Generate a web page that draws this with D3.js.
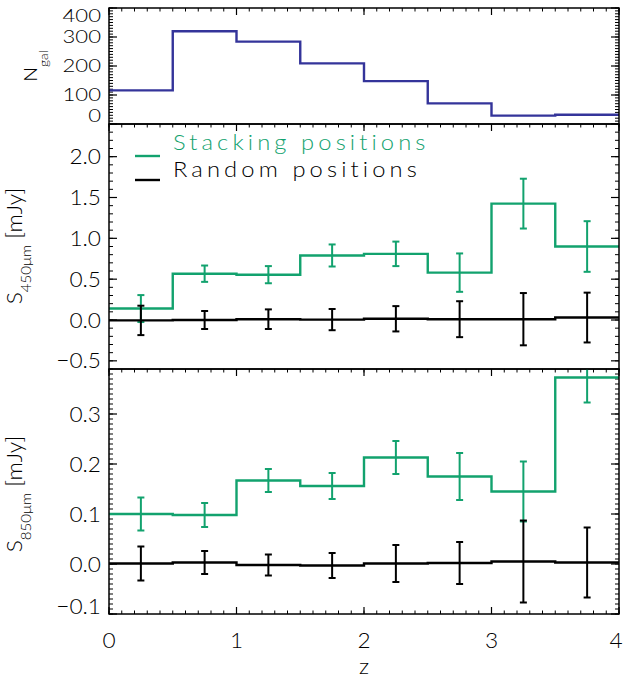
<!DOCTYPE html>
<html>
<head>
<meta charset="utf-8">
<script src="https://cdn.jsdelivr.net/npm/d3@7"></script>
<style>
	body { margin: 0; background: #fff; }
	text { font-family: Lato, "Open Sans", sans-serif; font-weight: 300; }
</style>
</head>
<body>
<div id="chart"></div>
<script>
// redshift bins (lower edges), width 0.5
var binLo = [0, 0.5, 1, 1.5, 2, 2.5, 3, 3.5];
var binWidth = 0.5;

var nGal = [116, 320, 284, 209, 148, 71, 29, 32];

var s450Stack = [0.14, 0.567, 0.555, 0.79, 0.81, 0.58, 1.425, 0.90];
var s450StackErr = [0.165, 0.10, 0.105, 0.135, 0.15, 0.235, 0.305, 0.31];
var s450Rand = [-0.005, 0.0, 0.01, 0.005, 0.015, 0.01, 0.01, 0.03];
var s450RandErr = [0.18, 0.11, 0.12, 0.13, 0.155, 0.22, 0.32, 0.305];

var s850Stack = [0.100, 0.098, 0.167, 0.156, 0.213, 0.175, 0.145, 0.373];
var s850StackErr = [0.033, 0.024, 0.023, 0.026, 0.033, 0.047, 0.06, 0.05];
var s850Rand = [0.001, 0.003, -0.002, -0.003, 0.001, 0.002, 0.005, 0.003];
var s850RandErr = [0.034, 0.023, 0.021, 0.025, 0.037, 0.042, 0.082, 0.07];

var xTicks = [0, 1, 2, 3, 4];
var nGalTicks = [0, 100, 200, 300, 400];
var s450Ticks = [-0.5, 0.0, 0.5, 1.0, 1.5, 2.0];
var s850Ticks = [-0.1, 0.0, 0.1, 0.2, 0.3];

var legendLabels = ["Stacking positions", "Random positions"];

var green = "#12a26e";
var navy = "#34349a";
var W = 623, H = 678;
var left = 109, right = 619;
var fs = 21, stretch = 1.08;

var svg = d3.select("#chart").append("svg").attr("width", W).attr("height", H);

var x = d3.scaleLinear().domain([0, 4]).range([left, right]);

// wide thin text, like the IDL font
function wideText(g, tx, ty, str, anchor, rot, size, sx) {
	var t = g.append("text")
		.attr("transform", "translate(" + tx + "," + ty + ")" + (rot ? " rotate(" + rot + ")" : "") + " scale(" + (sx || stretch) + ",1)")
		.attr("text-anchor", anchor || "start")
		.attr("font-size", size || fs)
		.attr("fill", "#000");
	if (str !== null) t.text(str);
	return t;
}

function stepPoints(vals) {
	var pts = binLo.map(function(b, i) { return [b, vals[i]]; });
	pts.push([4, vals[vals.length - 1]]);
	return pts;
}

function panel(top, bottom, domain, ticks, minorStep, fmt, id, lblSize, lblStretch) {
	var y = d3.scaleLinear().domain(domain).range([bottom, top]);
	var g = svg.append("g");
	g.append("clipPath").attr("id", id).append("rect")
		.attr("x", left).attr("y", top).attr("width", right - left).attr("height", bottom - top);
	var p = { y: y, g: g, top: top, bottom: bottom, clip: "url(#" + id + ")" };

	// y ticks left + right
	var minor = d3.range(Math.ceil(domain[0] / minorStep), Math.floor(domain[1] / minorStep) + 1).map(function(k) { return k * minorStep; });
	g.selectAll("line.ymin").data(minor).enter().append("line")
		.attr("x1", left).attr("x2", left + 4).attr("y1", y).attr("y2", y)
		.attr("stroke", "#000").attr("stroke-width", 1);
	g.selectAll("line.ymin2").data(minor).enter().append("line")
		.attr("x1", right).attr("x2", right - 4).attr("y1", y).attr("y2", y)
		.attr("stroke", "#000").attr("stroke-width", 1);
	g.selectAll("line.ymaj").data(ticks).enter().append("line")
		.attr("x1", left).attr("x2", left + 8).attr("y1", y).attr("y2", y)
		.attr("stroke", "#000").attr("stroke-width", 1.2);
	g.selectAll("line.ymaj2").data(ticks).enter().append("line")
		.attr("x1", right).attr("x2", right - 8).attr("y1", y).attr("y2", y)
		.attr("stroke", "#000").attr("stroke-width", 1.2);

	var sz = lblSize || fs;
	ticks.forEach(function(v) {
		var ty = y(v);
		// labels at the panel edges get nudged inside
		if (Math.abs(ty - top) < 3) ty = top + 8;
		if (Math.abs(ty - bottom) < 3) ty = bottom - 8;
		wideText(g, 101, ty + sz * 0.36, fmt(v), "end", 0, sz, lblStretch);
	});

	// x ticks along the top edge
	var xMinor = d3.range(0, 41).map(function(k) { return k / 10; });
	g.selectAll("line.xmin").data(xMinor).enter().append("line")
		.attr("x1", x).attr("x2", x).attr("y1", top).attr("y2", top + 3.5)
		.attr("stroke", "#000").attr("stroke-width", 1);
	g.selectAll("line.xmaj").data(xTicks).enter().append("line")
		.attr("x1", x).attr("x2", x).attr("y1", top).attr("y2", top + 7)
		.attr("stroke", "#000").attr("stroke-width", 1.2);
	return p;
}

function frame(p) {
	p.g.append("rect").attr("x", left).attr("y", p.top).attr("width", right - left).attr("height", p.bottom - p.top)
		.attr("fill", "none").attr("stroke", "#000").attr("stroke-width", 1.5);
}

function steps(p, vals, color) {
	var line = d3.line().x(function(d) { return x(d[0]); }).y(function(d) { return p.y(d[1]); }).curve(d3.curveStepAfter);
	p.g.append("path").datum(stepPoints(vals)).attr("d", line)
		.attr("fill", "none").attr("stroke", color).attr("stroke-width", 2.4)
		.attr("clip-path", p.clip);
}

function errbars(p, vals, errs, color) {
	var eg = p.g.append("g").attr("clip-path", p.clip).attr("stroke", color).attr("stroke-width", 2);
	binLo.forEach(function(b, i) {
		var cx = x(b + binWidth / 2), y0 = p.y(vals[i] - errs[i]), y1 = p.y(vals[i] + errs[i]);
		eg.append("line").attr("x1", cx).attr("x2", cx).attr("y1", y0).attr("y2", y1);
		eg.append("line").attr("x1", cx - 3.5).attr("x2", cx + 3.5).attr("y1", y0).attr("y2", y0);
		eg.append("line").attr("x1", cx - 3.5).attr("x2", cx + 3.5).attr("y1", y1).attr("y2", y1);
	});
}

var f0 = d3.format("d"), f1 = d3.format(".1f");

// top panel: galaxy counts (smaller labels)
var pTop = panel(8, 124, [0, 400], nGalTicks, 10, f0, "c1", 17, 1.3);
steps(pTop, nGal, navy);
frame(pTop);

// middle panel: 450um
var pMid = panel(124, 369, [-0.6, 2.4], s450Ticks, 0.1, f1, "c2");
steps(pMid, s450Stack, green);
errbars(pMid, s450Stack, s450StackErr, green);
steps(pMid, s450Rand, "#000");
errbars(pMid, s450Rand, s450RandErr, "#000");
frame(pMid);

// bottom panel: 850um
var pBot = panel(369, 614, [-0.1, 0.39], s850Ticks, 0.01, f1, "c3");
steps(pBot, s850Stack, green);
errbars(pBot, s850Stack, s850StackErr, green);
steps(pBot, s850Rand, "#000");
errbars(pBot, s850Rand, s850RandErr, "#000");
// bottom x ticks + labels
var xMinorB = d3.range(0, 41).map(function(k) { return k / 10; });
pBot.g.selectAll("line.bmin").data(xMinorB).enter().append("line")
	.attr("x1", x).attr("x2", x).attr("y1", 614).attr("y2", 610.5)
	.attr("stroke", "#000").attr("stroke-width", 1);
pBot.g.selectAll("line.bmaj").data(xTicks).enter().append("line")
	.attr("x1", x).attr("x2", x).attr("y1", 614).attr("y2", 607)
	.attr("stroke", "#000").attr("stroke-width", 1.2);
frame(pBot);
xTicks.forEach(function(v) {
	wideText(svg, Math.min(x(v), W - 7), 648, f0(v), "middle");
});
wideText(svg, x(2), 674, "z", "middle");

// y axis titles
var t1 = wideText(svg, 37, 66, null, "middle", -90, 17, 1.15);
t1.append("tspan").text("N");
t1.append("tspan").attr("font-size", 12).attr("dy", 11).text("gal");

var t2 = wideText(svg, 22, 246, null, "middle", -90);
t2.append("tspan").text("S");
t2.append("tspan").attr("font-size", 14).attr("dy", 9).text("450μm");
t2.append("tspan").attr("dy", -9).text(" [mJy]");

var t3 = wideText(svg, 22, 494, null, "middle", -90);
t3.append("tspan").text("S");
t3.append("tspan").attr("font-size", 14).attr("dy", 9).text("850μm");
t3.append("tspan").attr("dy", -9).text(" [mJy]");

// legend
var legColors = [green, "#000"];
legendLabels.forEach(function(lbl, i) {
	var ly = 156 + i * 24;
	svg.append("line").attr("x1", 135).attr("x2", 160).attr("y1", ly).attr("y2", ly)
		.attr("stroke", legColors[i]).attr("stroke-width", 2.4);
	var t = wideText(svg, 173, 150 + i * 27, lbl, "start");
	t.attr("fill", legColors[i]).attr("font-size", 22).attr("letter-spacing", 3.8);
});
</script>
</body>
</html>
